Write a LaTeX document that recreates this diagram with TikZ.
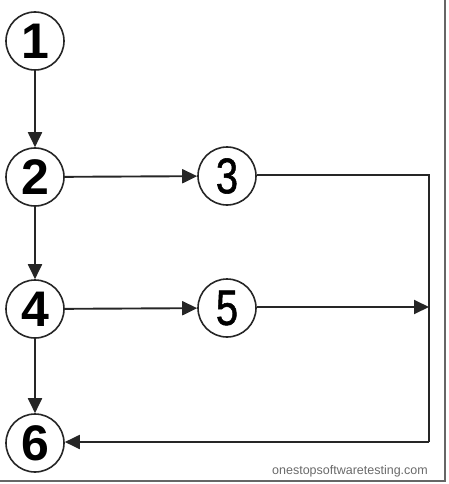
\documentclass[tikz,border=0pt]{standalone}
\usepackage{fontspec}
\setmainfont{Liberation Sans}
\newfontfamily\midfont[FakeBold=1.2]{Liberation Sans}
\usetikzlibrary{arrows.meta}
\definecolor{ln}{HTML}{262626}
\definecolor{wm}{HTML}{6a6a6a}
\tikzset{
  st/.style={circle, draw=ln, line width=1.6pt, minimum size=58pt, inner sep=0pt, fill=white},
  bd/.style={font=\fontsize{50}{50}\selectfont\bfseries},
  md/.style={font=\fontsize{50}{50}\selectfont\midfont},
  edge/.style={draw=ln, line width=1.9pt, -{Triangle[length=15pt,width=14pt]}},
  plain/.style={draw=ln, line width=1.9pt},
}
\begin{document}
\begin{tikzpicture}[x=1pt,y=-1pt]
\useasboundingbox (0,0) rectangle (449,484);
% frame
\draw[gray!80!black, line width=2.5pt] (445,0) -- (445,482);
\draw[gray!80!black, line width=2.5pt] (0,481) -- (446,481);
% nodes
\node[st, bd] (n1) at (35,41) {1};
\node[st, bd] (n2) at (35,177) {2};
\node[st, md] (n3) at (227,176) {\scalebox{0.8}[1]{3}};
\node[st, bd] (n4) at (35,309) {4};
\node[st, md] (n5) at (227,308) {\scalebox{0.8}[1]{5}};
\node[st, bd] (n6) at (35,443) {6};
\coordinate (c1) at (429,175);
\coordinate (c2) at (429,307);
\coordinate (c3) at (429,442);
% connectors
\draw[edge] (n1) -- (n2);
\draw[edge] (n2) -- (n3);
\draw[edge] (n2) -- (n4);
\draw[edge] (n4) -- (n5);
\draw[edge] (n4) -- (n6);
\draw[plain] (n3.east |- c1) -- (c1) -- (c3);
\draw[edge] (n5.east |- c2) -- (c2);
\draw[edge] (c3) -- (n6.east |- c3);
% watermark
\node[text=wm, font=\fontsize{12.5}{12.5}\selectfont, inner sep=0pt] (wmk) at (350,471) {onestopsoftwaretesting.com};
\end{tikzpicture}
\end{document}
